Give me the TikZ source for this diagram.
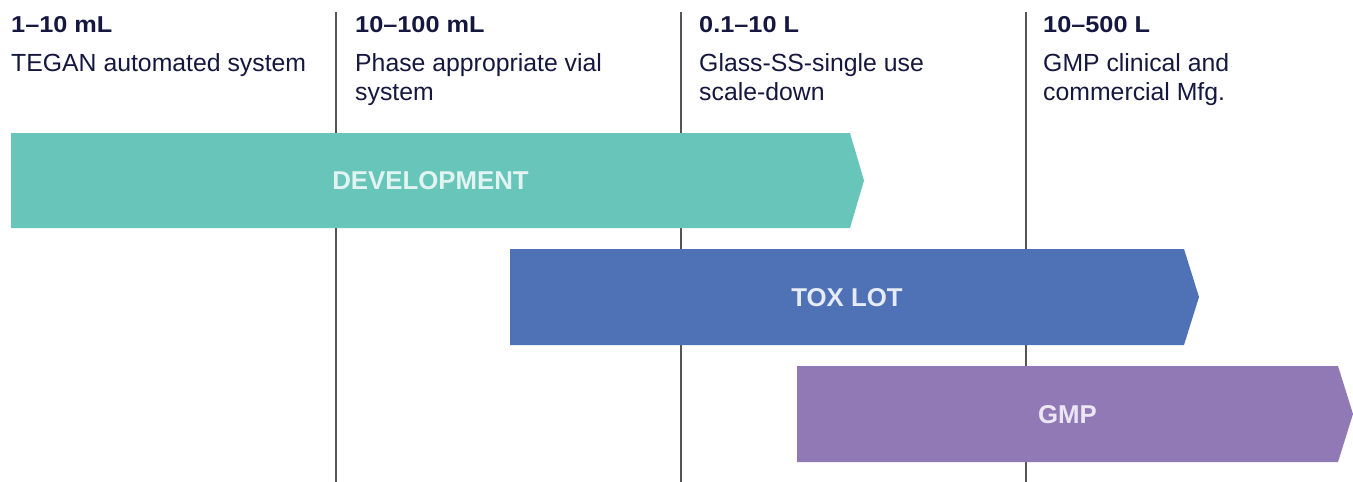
\documentclass[tikz,border=0pt]{standalone}
\usepackage{fontspec}
\setmainfont{Liberation Sans}
\newfontfamily\headfont[FakeStretch=1.1]{Liberation Sans}
\definecolor{navy}{HTML}{15173F}
\definecolor{gridgray}{HTML}{555555}
\definecolor{devfill}{HTML}{67C6B9}
\definecolor{devtext}{HTML}{E2F4F1}
\definecolor{toxfill}{HTML}{4F71B6}
\definecolor{toxtext}{HTML}{E6ECF7}
\definecolor{gmpfill}{HTML}{9179B5}
\definecolor{gmptext}{HTML}{ECE6F4}
\tikzset{
  vline/.style={draw=gridgray, line width=1.1pt},
  headtxt/.style={anchor=base west, inner sep=0pt, text=navy, font=\headfont\fontsize{23}{28}\selectfont\bfseries},
  subtxt/.style={anchor=base west, inner sep=0pt, text=navy, font=\fontsize{24.8}{29}\selectfont},
  barlabel/.style={inner sep=0pt, font=\fontsize{25.8}{30}\selectfont\bfseries},
}
\begin{document}
\begin{tikzpicture}[x=1pt,y=-1pt]
\useasboundingbox (0,0) rectangle (1353,482);
% vertical grid lines
\coordinate (l1t) at (336,12); \coordinate (l1b) at (336,482);
\coordinate (l2t) at (681,12); \coordinate (l2b) at (681,482);
\coordinate (l3t) at (1026,12); \coordinate (l3b) at (1026,482);
\draw[vline] (l1t) -- (l1b);
\draw[vline] (l2t) -- (l2b);
\draw[vline] (l3t) -- (l3b);
% headers
\node[headtxt] (h1) at (11,32) {1–10 mL};
\node[headtxt] (h2) at (355,32) {10–100 mL};
\node[headtxt] (h3) at (699,32) {0.1–10 L};
\node[headtxt] (h4) at (1043,32) {10–500 L};
\node[subtxt] (s1) at (11,71) {TEGAN automated system};
\node[subtxt] (s2a) at (355,71) {Phase appropriate vial};
\node[subtxt] (s2b) at (355,100) {system};
\node[subtxt] (s3a) at (699,71) {Glass-SS-single use};
\node[subtxt] (s3b) at (699,100) {scale-down};
\node[subtxt] (s4a) at (1043,71) {GMP clinical and};
\node[subtxt] (s4b) at (1043,100) {commercial Mfg.};
% bars
\fill[devfill] (11,133) -- (850,133) -- (864,180.5) -- (850,228) -- (11,228) -- cycle;
\node[barlabel, text=devtext] (dev) at (430.5,181) {DEVELOPMENT};
\fill[toxfill] (510,249) -- (1184,249) -- (1199,297) -- (1184,345) -- (510,345) -- cycle;
\node[barlabel, text=toxtext] (tox) at (847,298) {TOX LOT};
\fill[gmpfill] (797,366) -- (1338,366) -- (1353,414) -- (1338,462) -- (797,462) -- cycle;
\node[barlabel, text=gmptext] (gmp) at (1067.5,415) {GMP};
\end{tikzpicture}
\end{document}
